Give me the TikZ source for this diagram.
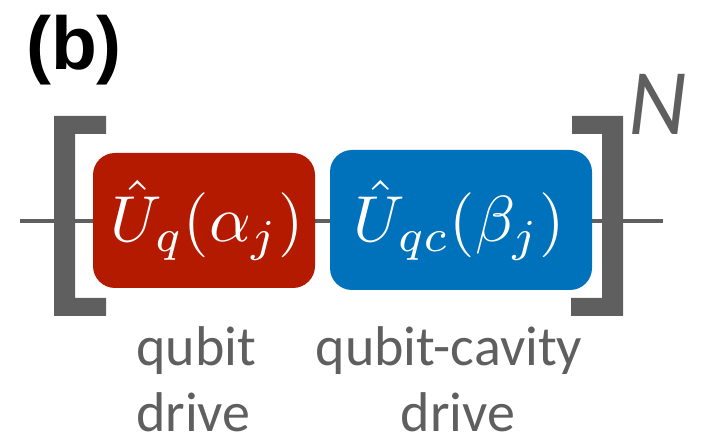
\documentclass[tikz,border=0pt]{standalone}
\usepackage[no-math]{fontspec}
\usepackage{graphicx}
\newfontfamily\labelfont{Carlito}
\newfontfamily\boldfont{Liberation Sans}
\newfontfamily\nfont{Lato}
\definecolor{qred}{RGB}{180,26,0}
\definecolor{qblue}{RGB}{0,114,187}
\definecolor{qgray}{RGB}{95,95,95}
\tikzset{
  gatebox/.style={rounded corners=22pt, inner sep=0pt},
  gatemath/.style={anchor=base, inner sep=0pt, text=white},
  lbl/.style={inner sep=0pt, text=qgray, font=\labelfont\fontsize{56}{64}\selectfont},
  wire/.style={draw=qgray, line width=4pt},
  brk/.style={fill=qgray},
}
\begin{document}
\begin{tikzpicture}[x=1pt,y=1pt]
\useasboundingbox (0,0) rectangle (702,438);
% wire
\coordinate (wl) at (20,217);
\coordinate (wr) at (663,217);
\draw[wire] (wl) -- (wr);
% brackets
\fill[brk] (54,322) -- (106,322) -- (106,304) -- (75,304) -- (75,140) -- (106,140) -- (106,122) -- (54,122) -- cycle;
\fill[brk] (572,322) -- (623,322) -- (623,122) -- (571,122) -- (571,140) -- (602,140) -- (602,304) -- (572,304) -- cycle;
% boxes
\fill[qred, gatebox] (93,150) rectangle (315,285);
\fill[qblue, gatebox] (330,148) rectangle (592,288);
\node[gatemath] (uq) at (207,196) {\scalebox{6.5}{$\hat{U}_{q}(\alpha_{j})$}};
\node[gatemath] (uqc) at (459,196) {\scalebox{6.5}{$\hat{U}_{qc}(\beta_{j})$}};
% N
\node[anchor=base west, inner sep=0pt, text=qgray, font=\nfont\itshape\fontsize{84}{90}\selectfont] (nn) at (628,303) {N};
% (b)
\node[anchor=base west, inner sep=0pt, font=\boldfont\bfseries\fontsize{75}{80}\selectfont] (lab) at (26,368) {(b)};
% labels
\node[lbl, anchor=base west] (l1) at (136,72) {qubit};
\node[lbl, anchor=base west] (l2) at (136,6) {drive};
\node[lbl, anchor=base] (l3) at (449,72) {qubit-cavity};
\node[lbl, anchor=base] (l4) at (458,6) {drive};
\end{tikzpicture}
\end{document}
